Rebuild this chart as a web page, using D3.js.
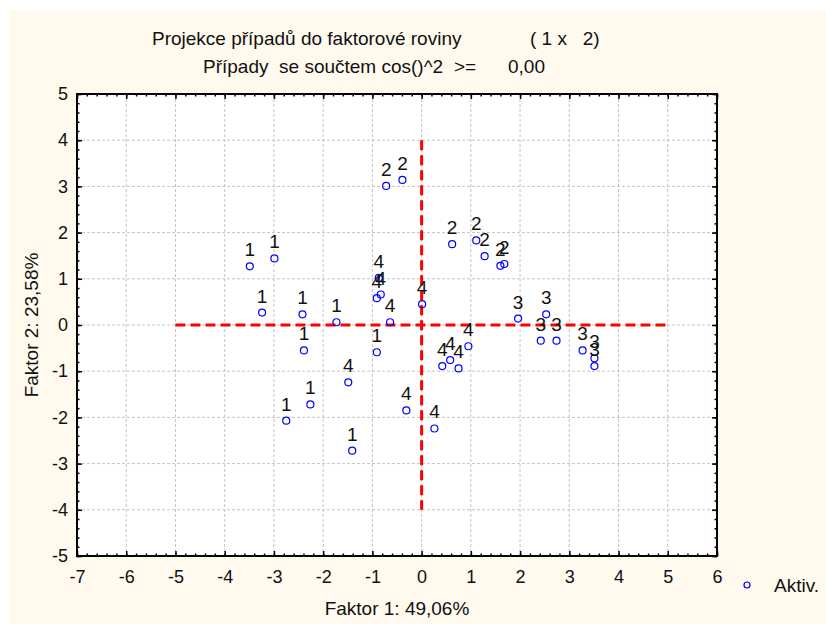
<!DOCTYPE html>
<html><head><meta charset="utf-8">
<script src="https://cdn.jsdelivr.net/npm/d3@7"></script>
<style>
html,body{margin:0;padding:0;background:#fff;}
text{font-family:"Liberation Sans",Arial,sans-serif;fill:#111;}
</style></head>
<body>
<script>
// ---- data ----
const factor1 = [-3.49,-2.99,-3.24,-2.42,-1.73,-2.39,-0.91,-2.26,-2.75,-1.41,
  -0.72,-0.39,0.62,1.11,1.28,1.60,1.68,
  1.96,2.53,2.42,2.74,3.27,3.51,3.51,
  -0.91,-0.87,-0.83,-0.64,0.01,0.95,0.42,0.58,0.75,-1.49,-0.31,0.26];
const factor2 = [1.27,1.44,0.27,0.23,0.06,-0.55,-0.59,-1.72,-2.07,-2.72,
  3.01,3.14,1.75,1.83,1.49,1.28,1.32,
  0.14,0.23,-0.34,-0.34,-0.55,-0.72,-0.89,
  0.58,1.02,0.66,0.06,0.45,-0.46,-0.89,-0.76,-0.94,-1.24,-1.85,-2.24];
const caseLabels = ["1","1","1","1","1","1","1","1","1","1",
  "2","2","2","2","2","2","2",
  "3","3","3","3","3","3","3",
  "4","4","4","4","4","4","4","4","4","4","4","4"];
const xTicks = [-7,-6,-5,-4,-3,-2,-1,0,1,2,3,4,5,6];
const yTicks = [-5,-4,-3,-2,-1,0,1,2,3,4,5];
const hRefX = [-5,5];   // horizontal reference line along y=0
const vRefY = [-4,4];   // vertical reference line along x=0
const titleLine1 = ["Projekce případů do faktorové roviny", "( 1 x   2)"];
const titleLine2 = ["Případy  se součtem cos()^2", ">=", "0,00"];
const xTitle = "Faktor 1: 49,06%";
const yTitle = "Faktor 2: 23,58%";
const legendLabel = "Aktiv.";

// ---- layout ----
const W = 826, H = 624;
const L = 77, R = 717, T = 94, B = 556;
const FS = 19;
const svg = d3.select("body").append("svg").attr("width", W).attr("height", H);
svg.append("rect").attr("x", 9).attr("y", 10).attr("width", W - 9).attr("height", H - 10).attr("fill", "#fff9ee");

const x = d3.scaleLinear().domain([-7, 6]).range([L, R]);
const y = d3.scaleLinear().domain([-5, 5]).range([B, T]);

svg.append("rect").attr("x", L).attr("y", T).attr("width", R - L).attr("height", B - T).attr("fill", "#fff");

// grid
const g = svg.append("g");
g.selectAll(".vg").data(xTicks.slice(1, -1)).join("line")
  .attr("x1", d => x(d)).attr("x2", d => x(d)).attr("y1", T).attr("y2", B)
  .attr("stroke", "#c4c4c4").attr("stroke-width", 1).attr("stroke-dasharray", "3,2");
g.selectAll(".hg").data(yTicks.slice(1, -1)).join("line")
  .attr("y1", d => y(d)).attr("y2", d => y(d)).attr("x1", L).attr("x2", R)
  .attr("stroke", "#c4c4c4").attr("stroke-width", 1).attr("stroke-dasharray", "3,2");

// reference lines
svg.append("line").attr("x1", x(hRefX[0])).attr("x2", x(hRefX[1])).attr("y1", y(0)).attr("y2", y(0))
  .attr("stroke", "#ff0000").attr("stroke-width", 3).attr("stroke-dasharray", "10,5");
svg.append("line").attr("x1", x(0)).attr("x2", x(0)).attr("y1", y(vRefY[1])).attr("y2", y(vRefY[0]))
  .attr("stroke", "#ff0000").attr("stroke-width", 3).attr("stroke-dasharray", "10,5");

// points
svg.selectAll(".pt").data(factor1).join("circle")
  .attr("cx", d => x(d)).attr("cy", (d, i) => y(factor2[i])).attr("r", 3.5)
  .attr("fill", "none").attr("stroke", "#0000ff").attr("stroke-width", 1.2);
svg.selectAll(".lb").data(factor1).join("text")
  .attr("x", d => x(d)).attr("y", (d, i) => y(factor2[i]) - 10)
  .attr("text-anchor", "middle").attr("font-size", FS).text((d, i) => caseLabels[i]);

// axes with inward ticks
const minorX = d3.range(-7, 6.001, 0.2).map(v => +v.toFixed(2));
const minorY = d3.range(-5, 5.001, 0.2).map(v => +v.toFixed(2));
function axisGroup(axis, tx, ty) {
  const a = svg.append("g").attr("transform", `translate(${tx},${ty})`).call(axis);
  a.select(".domain").remove();
  a.selectAll("line").attr("stroke", "#000").attr("stroke-width", 1.5);
  return a;
}
// minor ticks
axisGroup(d3.axisBottom(x).tickValues(minorX).tickSize(-2.5).tickFormat(""), 0, B);
axisGroup(d3.axisTop(x).tickValues(minorX).tickSize(-2.5).tickFormat(""), 0, T);
axisGroup(d3.axisLeft(y).tickValues(minorY).tickSize(-2.5).tickFormat(""), L, 0);
axisGroup(d3.axisRight(y).tickValues(minorY).tickSize(-2.5).tickFormat(""), R, 0);
// major ticks
const xb = axisGroup(d3.axisBottom(x).tickValues(xTicks).tickSize(-5).tickPadding(14).tickFormat(d3.format("d")), 0, B);
axisGroup(d3.axisTop(x).tickValues(xTicks).tickSize(-5).tickFormat(""), 0, T);
const yl = axisGroup(d3.axisLeft(y).tickValues(yTicks).tickSize(-5).tickPadding(9).tickFormat(d3.format("d")), L, 0);
axisGroup(d3.axisRight(y).tickValues(yTicks).tickSize(-5).tickFormat(""), R, 0);
xb.selectAll("text").attr("font-size", 18).attr("fill", "#111").attr("font-family", "Liberation Sans, Arial, sans-serif");
yl.selectAll("text").attr("font-size", 18).attr("fill", "#111").attr("font-family", "Liberation Sans, Arial, sans-serif");
svg.selectAll(".tick text").text(function(){ return this.textContent.replace("−", "-"); });

// frame
svg.append("rect").attr("x", L).attr("y", T).attr("width", R - L).attr("height", B - T)
  .attr("fill", "none").attr("stroke", "#000").attr("stroke-width", 2);

// titles
svg.append("text").attr("x", 152).attr("y", 45).attr("font-size", FS).text(titleLine1[0]);
svg.append("text").attr("x", 530).attr("y", 45).attr("font-size", FS).style("white-space", "pre").text(titleLine1[1]);
svg.append("text").attr("x", 203).attr("y", 73).attr("font-size", FS).style("white-space", "pre").text(titleLine2[0]);
svg.append("text").attr("x", 454).attr("y", 73).attr("font-size", FS).text(titleLine2[1]);
svg.append("text").attr("x", 508).attr("y", 73).attr("font-size", FS).text(titleLine2[2]);

svg.append("text").attr("x", (L + R) / 2).attr("y", 615).attr("text-anchor", "middle").attr("font-size", FS).text(xTitle);
svg.append("text").attr("transform", `translate(38,${(T + B) / 2}) rotate(-90)`).attr("text-anchor", "middle").attr("font-size", FS).text(yTitle);

// legend
svg.append("circle").attr("cx", 747).attr("cy", 585).attr("r", 3).attr("fill", "none").attr("stroke", "#0000ff").attr("stroke-width", 1.2);
svg.append("text").attr("x", 774).attr("y", 592).attr("font-size", FS).text(legendLabel);
</script>
</body></html>
